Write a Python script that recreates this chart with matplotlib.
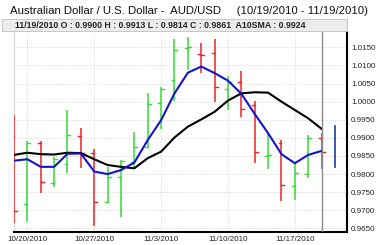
import matplotlib
matplotlib.use("Agg")
import matplotlib.pyplot as plt
from matplotlib.patches import Rectangle

dates = ["10/19/2010", "10/20/2010", "10/21/2010", "10/22/2010", "10/25/2010", "10/26/2010",
         "10/27/2010", "10/28/2010", "10/29/2010", "11/1/2010", "11/2/2010", "11/3/2010",
         "11/4/2010", "11/5/2010", "11/8/2010", "11/9/2010", "11/10/2010", "11/11/2010",
         "11/12/2010", "11/15/2010", "11/16/2010", "11/17/2010", "11/18/2010", "11/19/2010"]
opens  = [0.9905, 0.9717, 0.9885, 0.9776, 0.9827, 0.9906, 0.9857, 0.9724, 0.9793, 0.9832,
          0.9874, 0.9997, 1.0060, 1.0148, 1.0131, 1.0134, 1.0034, 1.0053, 0.9990, 0.9850,
          0.9885, 0.9767, 0.9799, 0.9900]
highs  = [0.9963, 0.9892, 0.9892, 0.9848, 0.9977, 0.9928, 0.9869, 0.9819, 0.9839, 0.9917,
          1.0023, 1.0041, 1.0172, 1.0179, 1.0161, 1.0172, 1.0072, 1.0086, 1.0003, 0.9913,
          0.9894, 0.9832, 0.9908, 0.9913]
lows   = [0.9665, 0.9669, 0.9747, 0.9765, 0.9802, 0.9816, 0.9657, 0.9719, 0.9682, 0.9820,
          0.9871, 0.9925, 1.0002, 1.0088, 1.0079, 1.0000, 0.9977, 0.9957, 0.9830, 0.9814,
          0.9726, 0.9729, 0.9790, 0.9814]
closes = [0.9699, 0.9885, 0.9778, 0.9843, 0.9907, 0.9858, 0.9724, 0.9791, 0.9836, 0.9876,
          0.9994, 1.0035, 1.0143, 1.0150, 1.0129, 1.0041, 1.0055, 0.9980, 0.9861, 0.9852,
          0.9770, 0.9802, 0.9901, 0.9861]
blue_line = [0.9837, 0.9841, 0.9820, 0.9820, 0.9856, 0.9857, 0.9807, 0.9800, 0.9811, 0.9832,
             0.9894, 0.9949, 1.0023, 1.0080, 1.0097, 1.0079, 1.0058, 1.0022, 0.9966, 0.9913,
             0.9855, 0.9830, 0.9853, 0.9864]
sma10 = [0.9853, 0.9859, 0.9855, 0.9854, 0.9859, 0.9858, 0.9841, 0.9825, 0.9820, 0.9816,
         0.9844, 0.9862, 0.9901, 0.9931, 0.9951, 0.9972, 1.0003, 1.0023, 1.0026, 1.0025,
         1.0000, 0.9977, 0.9954, 0.9925]
next_range = [0.9819, 0.9933]
xtick_idx = [1, 6, 11, 16, 21]
ytick_vals = [0.9650, 0.9700, 0.9750, 0.9800, 0.9850, 0.9900, 0.9950,
              1.0000, 1.0050, 1.0100, 1.0150]

plt.rcParams['font.family'] = ['Liberation Sans', 'DejaVu Sans']

W, H = 378, 245
fig = plt.figure(figsize=(W / 100, H / 100), dpi=100)
fig.patch.set_facecolor('white')

L, R, T, B = 14, 347, 32, 232
ax = fig.add_axes([L / W, 1 - B / H, (R - L) / W, (B - T) / H])

GREEN = '#33dd33'
RED = '#ee2222'
tick = 0.22
for i, (o, h, l, c) in enumerate(zip(opens, highs, lows, closes)):
    col = GREEN if c >= o else RED
    ax.plot([i, i], [l, h], color=col, lw=1.1, solid_capstyle='butt', zorder=3)
    ax.plot([i - tick, i], [o, o], color=col, lw=1.0, zorder=3)
    ax.plot([i, i + tick], [c, c], color=col, lw=1.0, zorder=3)

n = len(dates)
ax.plot([n, n], next_range, color='#1a3c9c', lw=1.2, zorder=3)

xs = list(range(n))
ax.plot(xs, sma10, color='black', lw=1.5, zorder=4)
ax.plot(xs, blue_line, color='#1414cc', lw=1.5, zorder=5)

ax.axvline(n - 1, color='#8a8a8a', lw=1.0, zorder=6)

ax.set_xlim(0, 24.9)
ax.set_ylim(0.9640, 1.01925)
ax.set_xticks(xtick_idx)
ax.set_xticklabels([dates[i] for i in xtick_idx])
ax.set_yticks(ytick_vals)
ax.set_yticklabels([f"{v:.4f}" for v in ytick_vals])
ax.yaxis.tick_right()
ax.tick_params(axis='both', length=0, labelsize=5.8, pad=3, colors='#222222')
ax.grid(True, color='#cfcfcf', lw=0.6, ls=(0, (1, 1.5)))
ax.set_axisbelow(True)
ax.spines['top'].set_visible(False)
ax.spines['left'].set_color('#d8d8d8')
ax.spines['left'].set_linewidth(0.8)
ax.spines['right'].set_color('black')
ax.spines['right'].set_linewidth(1.5)
ax.spines['bottom'].set_color('black')
ax.spines['bottom'].set_linewidth(1.5)

# header bar
fig.patches.append(Rectangle((2 / W, 1 - 31 / H), (R - 2) / W, 12 / H,
                             transform=fig.transFigure, facecolor='#ececec',
                             edgecolor='#c0c0c0', lw=0.6))
fig.text(15 / W, 1 - 25.5 / H,
         "11/19/2010 O : 0.9900 H : 0.9913 L : 0.9814 C : 0.9861  A10SMA : 0.9924",
         fontsize=6.3, fontweight='bold', va='center', ha='left', color='#222222')
fig.text(10 / W, 1 - 10.5 / H,
         "Australian Dollar / U.S. Dollar -  AUD/USD     (10/19/2010 - 11/19/2010)",
         fontsize=8.2, va='center', ha='left', color='#111111')

fig.savefig("out.png", dpi=100, facecolor='white')
